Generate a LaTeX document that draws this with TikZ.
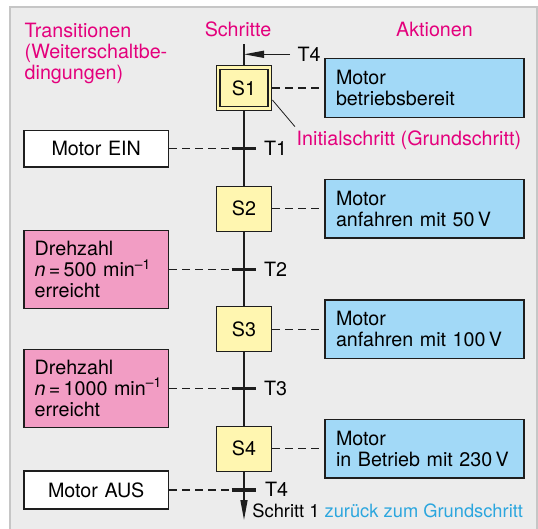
\documentclass[tikz,border=0pt]{standalone}
\usepackage{fontspec}
\setmainfont{TeX Gyre Heros}
\usetikzlibrary{arrows.meta,calc}
\definecolor{mag}{HTML}{E4007C}
\definecolor{cyantext}{HTML}{2BA6DE}
\definecolor{actfill}{HTML}{A2D9F7}
\definecolor{pinkfill}{HTML}{F29DC4}
\definecolor{stepfill}{HTML}{FFF6B0}
\definecolor{panel}{HTML}{ECECEC}
\definecolor{panelline}{HTML}{C6C6C6}
\definecolor{ink}{HTML}{1E1E1E}
\begin{document}
\begin{tikzpicture}[x=1pt,y=-1pt,
  font=\fontsize{19.7}{21}\selectfont, line width=1.4pt, draw=ink,
  stepbox/.style={draw=ink, fill=stepfill, minimum width=55pt, minimum height=45pt, inner sep=0},
  actbox/.style={draw=ink, fill=actfill, minimum width=199pt, minimum height=58.6pt,
                 text width=177pt, inner xsep=11pt, align=left},
  condbox/.style={draw=ink, minimum width=144.3pt, text width=123pt, inner xsep=10.65pt},
  whitecond/.style={condbox, fill=white, align=center},
  pinkcond/.style={condbox, fill=pinkfill, align=left, minimum height=78.4pt},
  dashline/.style={draw=ink, dash pattern=on 8pt off 5pt, line width=1.4pt},
  tbar/.style={draw=ink, line width=3.2pt},
  tlabel/.style={anchor=west, inner sep=0},
  head/.style={text=mag, inner sep=0},
  flowarrow/.style={draw=ink, -{Triangle[length=20pt,width=7pt]}}]
\useasboundingbox (0,0) rectangle (538,528);
% panel
\fill[white] (0,0) rectangle (538,528);
\fill[panel] (10,7) rectangle (537,540);
\draw[panelline, line width=1.8pt] (10,540) -- (10,7) -- (537,7) -- (537,540);

% headers
\node[head, align=left, anchor=north west] (hT) at (24,22.3)
  {Transitionen\\(Weiterschaltbe-\\dingungen)};
\node[head, anchor=base] (hS) at (238,36) {Schritte};
\node[head, anchor=base] (hA) at (434.5,36) {Aktionen};

% steps
\node[stepbox, line width=1.1pt, minimum width=55.7pt, minimum height=45.7pt] (s1) at (244,88) {};
\node[draw=ink, line width=1.1pt, minimum width=48pt, minimum height=37.7pt, inner sep=0] (s1in) at (s1) {S1};
\node[stepbox] (s2) at (244,208.7) {S2};
\node[stepbox] (s3) at (244,329.2) {S3};
\node[stepbox] (s4) at (244,448.7) {S4};

% actions
\node[actbox] (a1) at (424.5,88) {Motor\\betriebsbereit};
\node[actbox] (a2) at (424.5,208.7) {Motor\\anfahren mit 50\,V};
\node[actbox] (a3) at (424.5,329.2) {Motor\\anfahren mit 100\,V};
\node[actbox] (a4) at (424.5,448.7) {Motor\\in Betrieb mit 230\,V};

% transition conditions
\node[whitecond, minimum height=36.6pt] (c1) at (96.2,148.5) {Motor EIN};
\node[pinkcond] (c2) at (96.2,269.5)
  {Drehzahl\\\mbox{\textit{n}\,=\,500 min\textsuperscript{–1}}\\erreicht};
\node[pinkcond] (c3) at (96.2,388.4)
  {Drehzahl\\\mbox{\textit{n}\,=\,1000 min\textsuperscript{–1}}\\erreicht};
\node[whitecond, minimum height=38pt] (c4) at (96.2,490) {Motor AUS};

% transition points
\coordinate (t1) at (244,148.5);
\coordinate (t2) at (244,269.5);
\coordinate (t3) at (244,388.4);
\coordinate (t4) at (244,490);
\coordinate (top) at (244,44);
\coordinate (bot) at (244,520);
\coordinate (ret) at (290,54.3);
\coordinate (retend) at (244,54.3);

% flow line
\draw (top) -- (s1.north);
\draw (s1.south) -- (s2.north);
\draw (s2.south) -- (s3.north);
\draw (s3.south) -- (s4.north);
\path[flowarrow] (s4.south) -- (bot);
\path[flowarrow] (ret) -- (retend);

% dashed links
\draw[dashline] (s1.east) -- (s1.east -| a1.west);
\draw[dashline] (s2.east) -- (s2.east -| a2.west);
\draw[dashline] (s3.east) -- (s3.east -| a3.west);
\draw[dashline] (s4.east) -- (s4.east -| a4.west);
\draw[dashline] (c1.east) -- (c1.east -| t1);
\draw[dashline] (c2.east) -- (c2.east -| t2);
\draw[dashline] (c3.east) -- (c3.east -| t3);
\draw[dashline] (c4.east) -- (c4.east -| t4);

% transition bars
\foreach \t in {t1,t2,t3,t4}
  \draw[tbar] ($(\t)+(-12.5,0)$) -- ($(\t)+(12,0)$);

% transition labels
\node[tlabel] (l1) at (263.5,148.5) {T1};
\node[tlabel] (l2) at (263.5,269.5) {T2};
\node[tlabel] (l3) at (263.5,388.4) {T3};
\node[tlabel] (l4) at (264.5,489.7) {T4};
\node[tlabel] (l0) at (297,54) {T4};

% initial step note
\node[text=mag, anchor=base west, inner sep=0] (init) at (296,145.7) {Initialschritt (Grundschritt)};
\coordinate (initA) at ($(s1.east)+(0,12)$);
\coordinate (initB) at (295,126.7);
\draw[line width=0.8pt] (initA) -- (initB);

% return note
\node[anchor=base west, inner sep=0, font=\fontsize{18.3}{20}\selectfont] (back) at (251.7,517.3)
  {Schritt 1 \textcolor{cyantext}{zurück zum Grundschritt}};
\end{tikzpicture}
\end{document}
